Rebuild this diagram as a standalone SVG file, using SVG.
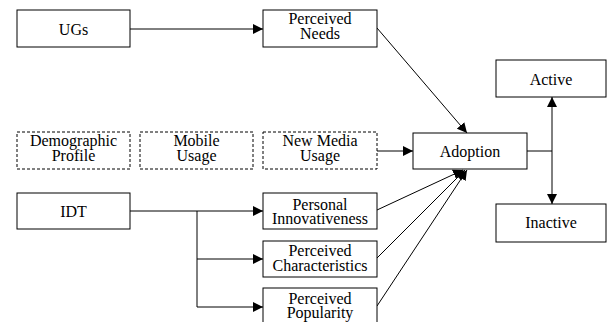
<svg xmlns="http://www.w3.org/2000/svg" width="608" height="322" viewBox="0 0 608 322">
<style>
.box{fill:#fff;stroke:#000;stroke-width:1}
.dash{fill:#fff;stroke:#000;stroke-width:1;stroke-dasharray:3,2}
text{font-family:"Liberation Serif","Times New Roman",serif;font-size:16px;fill:#000;text-anchor:middle}
.ln{fill:none;stroke:#000;stroke-width:1}
</style>
<defs>
<marker id="ah" viewBox="0 0 10 10" refX="10" refY="5" markerWidth="10" markerHeight="10" markerUnits="userSpaceOnUse" orient="auto">
<path d="M0,0 L10,5 L0,10 z" fill="#000"/>
</marker>
</defs>
<rect width="608" height="322" fill="#fff"/>
<g id="connectors">
<line class="ln" x1="130" y1="29" x2="263" y2="29" marker-end="url(#ah)"/>
<line class="ln" x1="377" y1="28" x2="467" y2="133" marker-end="url(#ah)"/>
<line class="ln" x1="377" y1="151" x2="413" y2="151" marker-end="url(#ah)"/>
<polyline class="ln" points="527,151 552,151"/>
<line class="ln" x1="552" y1="151" x2="552" y2="97" marker-end="url(#ah)"/>
<line class="ln" x1="552" y1="151" x2="552" y2="204" marker-end="url(#ah)"/>
<line class="ln" x1="130" y1="211" x2="263" y2="211" marker-end="url(#ah)"/>
<polyline class="ln" points="197,211 197,307"/>
<line class="ln" x1="197" y1="259" x2="263" y2="259" marker-end="url(#ah)"/>
<line class="ln" x1="197" y1="307" x2="263" y2="307" marker-end="url(#ah)"/>
<line class="ln" x1="377" y1="210" x2="463" y2="170" marker-end="url(#ah)"/>
<line class="ln" x1="377" y1="258" x2="465" y2="170" marker-end="url(#ah)"/>
<line class="ln" x1="377" y1="306" x2="467" y2="170" marker-end="url(#ah)"/>
</g>
<g id="ugs"><rect class="box" x="17" y="10" width="113" height="37"/><text x="73.5" y="35">UGs</text></g>
<g id="perceived-needs"><rect class="box" x="263" y="10" width="114" height="37"/><text x="320" y="24">Perceived</text><text x="320" y="39">Needs</text></g>
<g id="active"><rect class="box" x="496" y="60" width="110" height="37"/><text x="551" y="85">Active</text></g>
<g id="demographic"><rect class="dash" x="17" y="132" width="113" height="37"/><text x="73.5" y="146">Demographic</text><text x="73.5" y="161">Profile</text></g>
<g id="mobile"><rect class="dash" x="140" y="132" width="113" height="37"/><text x="196.5" y="146">Mobile</text><text x="196.5" y="161">Usage</text></g>
<g id="newmedia"><rect class="dash" x="263" y="132" width="114" height="37"/><text x="320" y="146">New Media</text><text x="320" y="161">Usage</text></g>
<g id="adoption"><rect class="box" x="413" y="133" width="114" height="36"/><text x="470" y="157">Adoption</text></g>
<g id="inactive"><rect class="box" x="496" y="204" width="110" height="38"/><text x="551" y="228">Inactive</text></g>
<g id="idt"><rect class="box" x="17" y="193" width="113" height="36"/><text x="73.5" y="217">IDT</text></g>
<g id="personal"><rect class="box" x="263" y="193" width="114" height="36"/><text x="320" y="209.5">Personal</text><text x="320" y="223.5">Innovativeness</text></g>
<g id="characteristics"><rect class="box" x="263" y="241" width="114" height="36"/><text x="320" y="256">Perceived</text><text x="320" y="271">Characteristics</text></g>
<g id="popularity"><rect class="box" x="263" y="288" width="114" height="40"/><text x="320" y="304">Perceived</text><text x="320" y="318">Popularity</text></g>
</svg>
